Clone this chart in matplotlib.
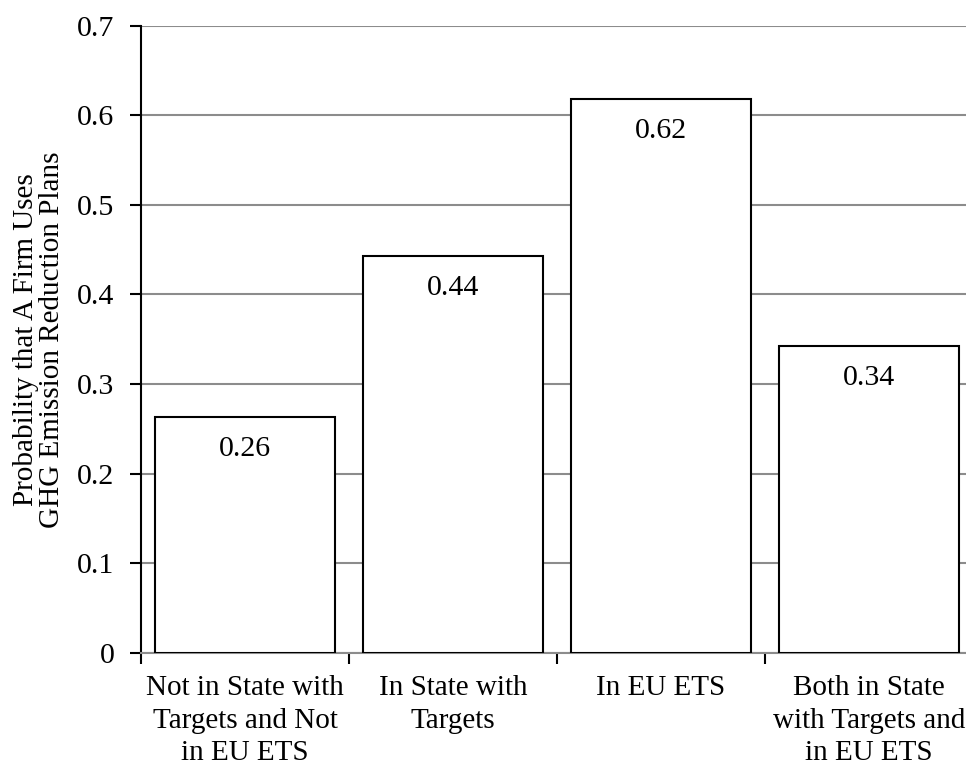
import matplotlib
matplotlib.use("Agg")
import matplotlib.pyplot as plt
import numpy as np

plt.rcParams['font.family'] = ['Liberation Serif', 'DejaVu Serif']

# data
categories = ['Not in State with\nTargets and Not\nin EU ETS',
              'In State with\nTargets',
              'In EU ETS',
              'Both in State\nwith Targets and\nin EU ETS']
values = [0.263, 0.443, 0.618, 0.343]
value_labels = ['0.26', '0.44', '0.62', '0.34']

fig = plt.figure(figsize=(9.66, 7.66), dpi=100)
# right edge runs past the picture, as in the original
ax = fig.add_axes([141 / 966, (766 - 653) / 766, 832 / 966, 627.5 / 766])

x = np.arange(len(values))
ax.bar(x, values, width=0.862, color='white', edgecolor='black', linewidth=1.5, zorder=3)

for xi, v, lab in zip(x, values, value_labels):
    ax.annotate(lab, (xi, v), xytext=(0, -32), textcoords='offset pixels',
                ha='center', va='center', fontsize=21.5, zorder=4)

# axes
ax.set_xlim(-0.5, len(values) - 0.5)
ax.set_ylim(0, 0.7)
ax.set_yticks(np.arange(0, 0.71, 0.1))
ax.set_yticklabels(['0', '0.1', '0.2', '0.3', '0.4', '0.5', '0.6', '0.7'], fontsize=21.5)
ax.yaxis.grid(True, color='#8c8c8c', linewidth=1.5, zorder=0)

ax.set_xticks(np.arange(-0.5, len(values), 1.0))
ax.set_xticklabels([])
ax.set_xticks(x, minor=True)
ax.set_xticklabels(categories, minor=True, fontsize=21, linespacing=1.32)
ax.tick_params(axis='x', which='minor', length=0, pad=16)
ax.tick_params(axis='x', which='major', direction='out', length=8, width=1.5, color='black')
ax.tick_params(axis='y', direction='out', length=8, width=1.5, color='black', pad=11)

ax.spines['top'].set_visible(False)
ax.spines['right'].set_visible(False)
ax.spines['left'].set_linewidth(1.5)
ax.spines['bottom'].set_color('#8c8c8c')
ax.spines['bottom'].set_linewidth(1.5)

ax.set_ylabel('Probability that A Firm Uses\nGHG Emission Reduction Plans', fontsize=21,
              linespacing=1.0, labelpad=9)

fig.savefig('out.png', dpi=100)
